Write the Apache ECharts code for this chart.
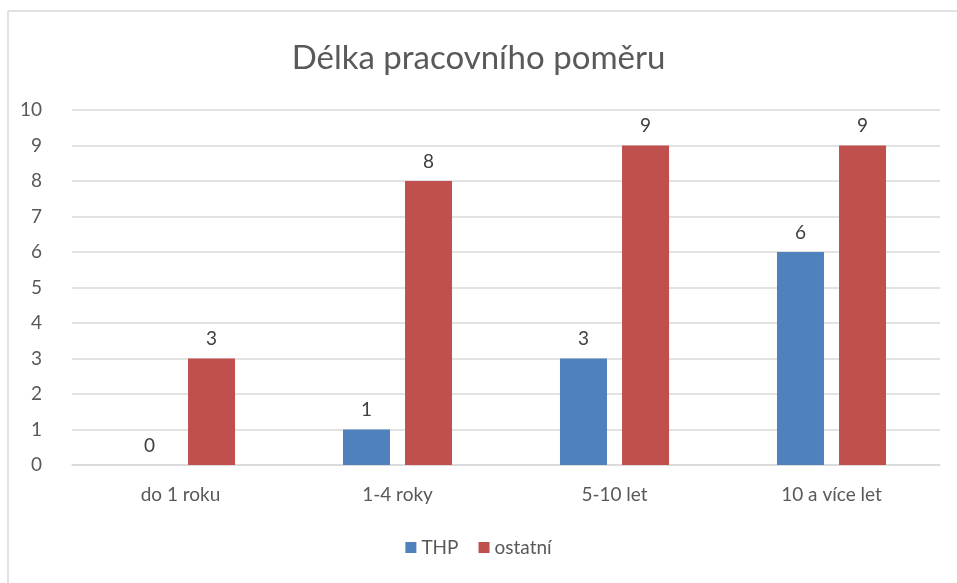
<!DOCTYPE html>
<html>
<head>
<meta charset="utf-8">
<script src="https://cdn.jsdelivr.net/npm/echarts@6/dist/echarts.min.js"></script>
<style>
  html, body { margin: 0; padding: 0; background: #fff; }
  #chart { width: 957px; height: 583px; }
</style>
</head>
<body>
<div id="chart"></div>
<script>
var categories = ["do 1 roku", "1-4 roky", "5-10 let", "10 a více let"];
var thp = [0, 1, 3, 6];
var ostatni = [3, 8, 9, 9];
var yTicks = [0, 10, 1]; // min, max, interval

var myChart = echarts.init(document.getElementById("chart"));
var labelStyle = {
  show: true,
  position: "top",
  distance: 10,
  color: "#404040",
  fontSize: 19,
  fontFamily: "Lato"
};
var option = {
  animation: false,
  textStyle: { fontFamily: "Lato" },
  title: {
    text: "Délka pracovního poměru",
    left: "center",
    top: 37,
    textStyle: { color: "#595959", fontSize: 33, fontWeight: "normal", fontFamily: "Lato" }
  },
  legend: {
    bottom: 21,
    left: "center",
    itemWidth: 11,
    itemHeight: 11,
    itemGap: 20,
    icon: "rect",
    textStyle: { color: "#595959", fontSize: 19, fontFamily: "Lato" },
    data: ["THP", "ostatní"]
  },
  grid: { left: 72, right: 17, top: 110, bottom: 118 },
  xAxis: {
    type: "category",
    data: categories,
    axisLine: { lineStyle: { color: "#d9d9d9", width: 1.5 } },
    axisTick: { show: false },
    axisLabel: { color: "#595959", fontSize: 19, margin: 20 }
  },
  yAxis: {
    type: "value",
    min: yTicks[0],
    max: yTicks[1],
    interval: yTicks[2],
    axisLine: { show: false },
    axisTick: { show: false },
    axisLabel: { color: "#595959", fontSize: 19, margin: 30 },
    splitLine: { lineStyle: { color: "#d9d9d9", width: 1.5 } }
  },
  series: [
    {
      name: "THP",
      type: "bar",
      data: thp,
      barWidth: 47,
      barGap: "32%",
      itemStyle: { color: "#4f81bd" },
      label: labelStyle
    },
    {
      name: "ostatní",
      type: "bar",
      data: ostatni,
      barWidth: 47,
      itemStyle: { color: "#c0504d" },
      label: labelStyle
    }
  ],
  graphic: [
    { type: "line", shape: { x1: 8, y1: 11, x2: 957, y2: 11 }, style: { stroke: "#d9d9d9", lineWidth: 1.5 } },
    { type: "line", shape: { x1: 8, y1: 11, x2: 8, y2: 583 }, style: { stroke: "#d9d9d9", lineWidth: 1.5 } }
  ]
};
myChart.setOption(option);
</script>
</body>
</html>
